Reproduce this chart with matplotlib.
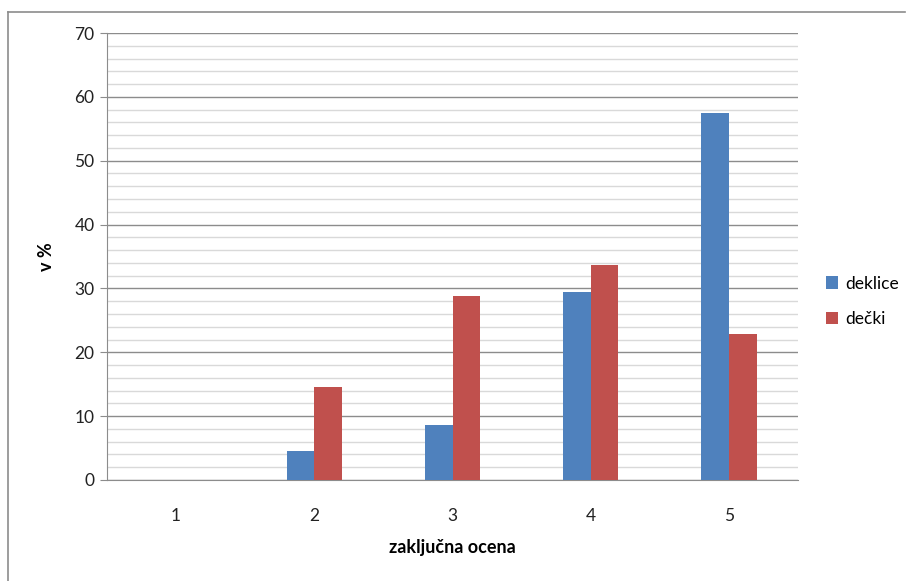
import matplotlib.pyplot as plt
from matplotlib.lines import Line2D
import numpy as np

plt.rcParams['font.family'] = ['Lato', 'DejaVu Sans']

ocene = ['1', '2', '3', '4', '5']
deklice = [0, 4.5, 8.6, 29.4, 57.5]
decki = [0, 14.6, 28.8, 33.7, 22.9]

W, H = 907, 581
fig = plt.figure(figsize=(W / 100, H / 100), dpi=100)
ax = fig.add_axes([107 / W, 1 - 480 / H, (798 - 107) / W, (480 - 33) / H])

x = np.arange(len(ocene))
bw = 0.2
ax.bar(x - bw / 2, deklice, bw, color='#4F81BD', label='deklice', zorder=3)
ax.bar(x + bw / 2, decki, bw, color='#C0504D', label='dečki', zorder=3)

ax.set_xlim(-0.5, len(ocene) - 0.5)
ax.set_ylim(0, 70)
ax.set_yticks(range(0, 71, 10))
ax.set_yticks(range(0, 71, 2), minor=True)
ax.yaxis.grid(True, which='major', color='#8c8c8c', lw=1, zorder=0)
ax.yaxis.grid(True, which='minor', color='#d9d9d9', lw=1, zorder=0)
ax.set_xticks(x)
ax.set_xticklabels(ocene)
ax.tick_params(axis='x', length=0, pad=20, labelsize=12.5, labelcolor='#222222')
ax.tick_params(axis='y', which='major', length=5, color='#8c8c8c', labelsize=12.5,
               labelcolor='#222222', pad=4)
ax.tick_params(axis='y', which='minor', length=0)

for s in ['top', 'right']:
    ax.spines[s].set_visible(False)
for s in ['left', 'bottom']:
    ax.spines[s].set_color('#8c8c8c')

ax.set_xlabel('zaključna ocena', fontsize=13, fontweight='bold', labelpad=11)
ax.set_ylabel('v %', fontsize=13, fontweight='bold', labelpad=14)

ax.legend(loc='center left', bbox_to_anchor=(1.018, 0.40), frameon=False,
          fontsize=12.5, handlelength=0.7, handleheight=0.7, handletextpad=0.4,
          labelspacing=1.1)

# outer chart frame
fig.add_artist(Line2D([8 / W, 8 / W], [0, 1 - 12 / H], color='#8c8c8c', lw=1.2))
fig.add_artist(Line2D([8 / W, 905 / W], [1 - 12 / H, 1 - 12 / H], color='#8c8c8c', lw=1.2))

fig.savefig('out.png', dpi=100)
